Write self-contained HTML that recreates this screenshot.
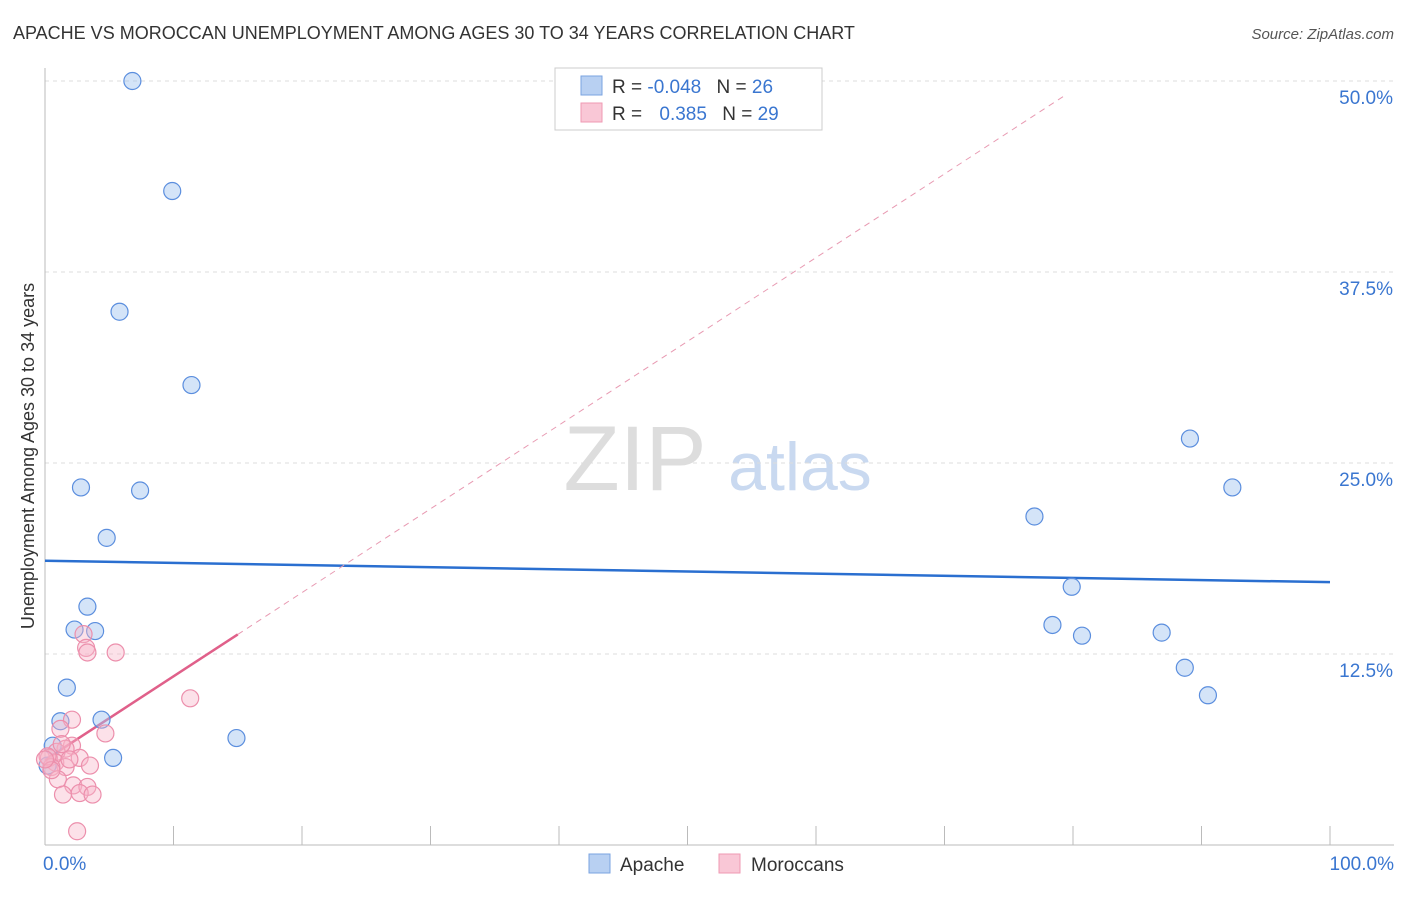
<!DOCTYPE html>
<html><head><meta charset="utf-8"><style>
body{margin:0;background:#fff;font-family:"Liberation Sans",sans-serif}
svg text{font-family:"Liberation Sans",sans-serif}
</style></head><body>
<svg width="1406" height="892" viewBox="0 0 1406 892" id="chart">
<text x="13" y="39" font-size="18" fill="#333">APACHE VS MOROCCAN UNEMPLOYMENT AMONG AGES 30 TO 34 YEARS CORRELATION CHART</text>
<text x="1394" y="39" font-size="15" fill="#555" font-style="italic" text-anchor="end">Source: ZipAtlas.com</text>
<text transform="translate(34,456) rotate(-90)" font-size="18" fill="#333" text-anchor="middle">Unemployment Among Ages 30 to 34 years</text>
<g><text x="635" y="490" font-size="92" fill="#ddd" text-anchor="middle" font-family="Liberation Serif">ZIP</text><text x="800" y="490" font-size="68" fill="#c9d9f0" text-anchor="middle">atlas</text></g>
<g id="grid"></g>
<g id="axes"></g>
<g id="trend"></g>
<g id="pts"></g>
<g>
<rect x="555" y="68" width="267" height="62" fill="#fff" stroke="#ccc"/>
<rect x="581" y="76" width="21" height="19" fill="#b8d0f2" stroke="#7aa3e0"/>
<rect x="581" y="103" width="21" height="19" fill="#f9c7d6" stroke="#ef9ab3"/>
<text x="612" y="93" font-size="19" fill="#333">R = <tspan fill="#3a76d0">-0.048</tspan>  <tspan dx="10">N = </tspan><tspan fill="#3a76d0">26</tspan></text>
<text x="612" y="120" font-size="19" fill="#333">R = <tspan fill="#3a76d0" dx="12">0.385</tspan>  <tspan dx="10">N = </tspan><tspan fill="#3a76d0">29</tspan></text>
</g>
<g>
<rect x="589" y="854" width="21" height="19" fill="#b8d0f2" stroke="#7aa3e0"/>
<text x="620" y="871" font-size="19" fill="#333">Apache</text>
<rect x="719" y="854" width="21" height="19" fill="#f9c7d6" stroke="#ef9ab3"/>
<text x="751" y="871" font-size="19" fill="#333">Moroccans</text>
</g>
</svg>
<script>
const yTicks=[12.5,25.0,37.5,50.0];
const yTickLabels=["12.5%","25.0%","37.5%","50.0%"];
const xTickLabels=["0.0%","100.0%"];
const apacheX=[6.8,9.9,5.8,11.4,2.8,7.4,4.8,3.3,2.3,3.9,1.7,1.2,4.4,14.9,5.3,0.6,0.2,89.1,92.4,77.0,79.9,78.4,80.7,86.9,88.7,90.5];
const apacheY=[50.0,42.8,34.9,30.1,23.4,23.2,20.1,15.6,14.1,14.0,10.3,8.1,8.2,7.0,5.7,6.5,5.2,26.6,23.4,21.5,16.9,14.4,13.7,13.9,11.6,9.8];
const morX=[3.0,3.2,3.3,5.5,11.3,2.1,1.2,4.7,2.1,1.6,0.9,0.3,0.8,1.6,2.7,3.5,0.5,1.0,2.2,3.3,1.4,2.7,3.7,2.5,0.2,0.5,0.0,1.3,1.9];
const morY=[13.8,12.9,12.6,12.6,9.6,8.2,7.6,7.3,6.5,6.3,6.1,5.7,5.4,5.1,5.7,5.2,5.1,4.3,3.9,3.8,3.3,3.4,3.3,0.9,5.8,4.9,5.6,6.6,5.6];
const apacheTrend=[18.6,17.2];
const morTrend=[5.56,0.548];
const NS="http://www.w3.org/2000/svg";
const sx=v=>45+v*12.85, sy=v=>845-v*15.28;
function mk(p,t,a){const e=document.createElementNS(NS,t);for(const k in a)e.setAttribute(k,a[k]);document.getElementById(p).appendChild(e);return e;}
yTicks.forEach((t,i)=>{
 const l=mk('grid','line',{x1:45,x2:1394,y1:sy(t),y2:sy(t),stroke:'#ddd','stroke-dasharray':'4,4'});
 
 
 const tx=mk('grid','text',{x:1393,y:sy(t)+23,'font-size':19,fill:'#3a76d0','text-anchor':'end'});
 tx.textContent=yTickLabels[i];
 
 
});
mk('axes','line',{x1:45,x2:45,y1:68,y2:845,stroke:'#bbb'});
mk('axes','line',{x1:45,x2:1394,y1:845,y2:845,stroke:'#bbb'});
for(let i=0;i<=10;i++){const t=mk('axes','line',{x1:sx(i*10),x2:sx(i*10),y1:826,y2:845,stroke:'#bbb'});}
[[0,'start',xTickLabels[0]],[100,'end',xTickLabels[1]]].forEach(([v,a,s])=>{const t=mk('axes','text',{x:sx(v)+(v?64:-2),y:870,'font-size':19,fill:'#3a76d0','text-anchor':a});t.textContent=s;});
let l=mk('trend','line',{x1:sx(0),y1:sy(apacheTrend[0]),x2:sx(100),y2:sy(apacheTrend[1]),stroke:'#2a6fd0','stroke-width':2.5});


const mEnd=(49-morTrend[0])/morTrend[1];
l=mk('trend','line',{x1:sx(15),y1:sy(morTrend[0]+morTrend[1]*15),x2:sx(mEnd),y2:sy(49),stroke:'#e89ab2','stroke-width':1,'stroke-dasharray':'6,5'});


l=mk('trend','line',{x1:sx(0),y1:sy(morTrend[0]),x2:sx(15),y2:sy(morTrend[0]+morTrend[1]*15),stroke:'#e0608a','stroke-width':2.5});


apacheX.forEach((x,i)=>{const c=mk('pts','circle',{cx:sx(x),cy:sy(apacheY[i]),r:8.5,fill:'rgba(160,195,240,0.45)',stroke:'#5b8ede','stroke-width':1.2});});
morX.forEach((x,i)=>{const c=mk('pts','circle',{cx:sx(x),cy:sy(morY[i]),r:8.5,fill:'rgba(248,180,200,0.4)',stroke:'#ec8fac','stroke-width':1.2});});
</script>
</body></html>
